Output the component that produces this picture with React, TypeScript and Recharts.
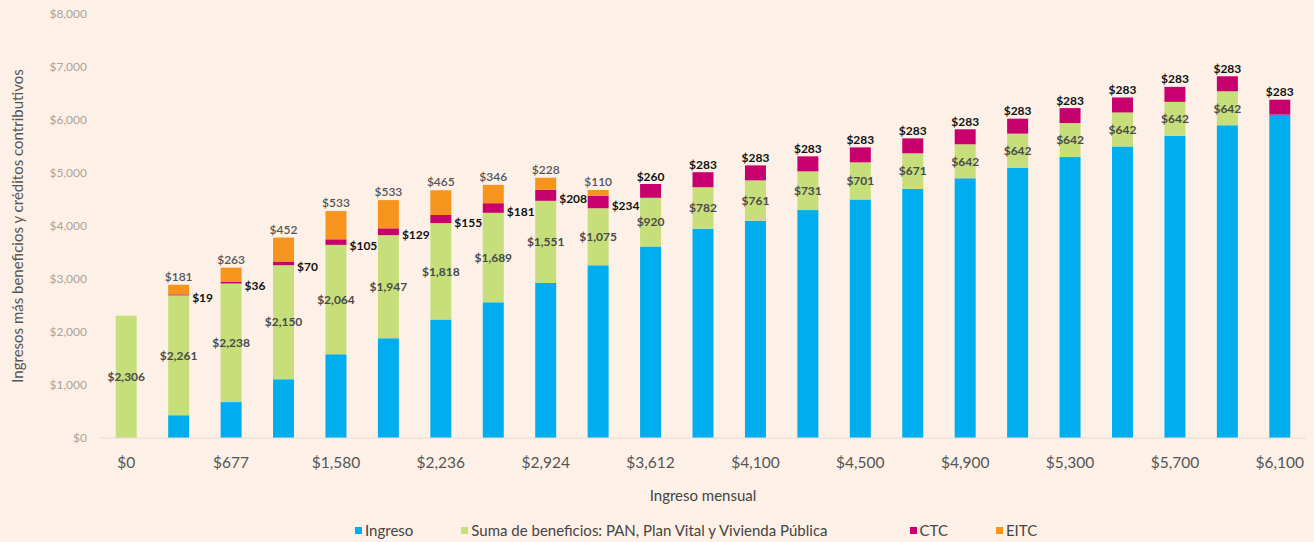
import { Bar, BarChart, LabelList, Legend, XAxis, YAxis } from "recharts";

// Ingreso mensual (categorías del eje X)
const categorias = [
  "$0", "$430", "$677", "$1,110", "$1,580", "$1,880", "$2,236", "$2,560",
  "$2,924", "$3,260", "$3,612", "$3,950", "$4,100", "$4,300", "$4,500",
  "$4,700", "$4,900", "$5,100", "$5,300", "$5,500", "$5,700", "$5,900", "$6,100",
];
const ingreso = [
  0, 430, 677, 1110, 1580, 1880, 2236, 2560, 2924, 3260, 3612, 3950, 4100,
  4300, 4500, 4700, 4900, 5100, 5300, 5500, 5700, 5900, 6100,
];
const beneficios = [
  2306, 2261, 2238, 2150, 2064, 1947, 1818, 1689, 1551, 1075, 920, 782, 761,
  731, 701, 671, 642, 642, 642, 642, 642, 642, 0,
];
const ctc = [
  0, 19, 36, 70, 105, 129, 155, 181, 208, 234, 260, 283, 283, 283, 283, 283,
  283, 283, 283, 283, 283, 283, 283,
];
const eitc = [
  0, 181, 263, 452, 533, 533, 465, 346, 228, 110, 0, 0, 0, 0, 0, 0, 0, 0, 0,
  0, 0, 0, 0,
];
const yTicks = [0, 1000, 2000, 3000, 4000, 5000, 6000, 7000, 8000];

const colors = {
  ingreso: "#00aeef",
  beneficios: "#c6df7a",
  ctc: "#c8006e",
  eitc: "#f7941d",
};

const FONT = "Lato, 'Open Sans', sans-serif";

const money = (v: number) => "$" + v.toLocaleString("en-US");

const data = categorias.map((c, i) => ({
  label: c,
  ingreso: ingreso[i],
  beneficios: beneficios[i],
  ctc: ctc[i],
  eitc: eitc[i],
}));

const legendItems = [
  { key: "ingreso", name: "Ingreso", gap: 355 },
  { key: "beneficios", name: "Suma de beneficios: PAN, Plan Vital y Vivienda Pública", gap: 48 },
  { key: "ctc", name: "CTC", gap: 82 },
  { key: "eitc", name: "EITC", gap: 48 },
];

function LegendContent() {
  return (
    <div
      style={{
        display: "flex",
        fontFamily: FONT,
        fontSize: 15,
        color: "#444",
        lineHeight: "24px",
      }}
    >
      {legendItems.map((it) => (
        <span
          key={it.key}
          style={{ display: "flex", alignItems: "center", marginLeft: it.gap }}
        >
          <span
            style={{
              width: 7,
              height: 7,
              background: colors[it.key as keyof typeof colors],
              marginRight: 3,
            }}
          />
          {it.name}
        </span>
      ))}
    </div>
  );
}

function CtcLabel(props: any) {
  const { x, y, width, height, value } = props;
  const i = categorias.indexOf(value);
  const v = ctc[i];
  if (!v) return null;
  const common = {
    fontFamily: FONT,
    fontSize: 12,
    fontWeight: 700,
    fill: "#111",
    dominantBaseline: "central" as const,
  };
  if (eitc[i] > 0) {
    return (
      <text x={x + width + 3} y={y + height / 2 + 3} textAnchor="start" {...common}>
        {money(v)}
      </text>
    );
  }
  return (
    <text x={x + width / 2} y={y - 8} textAnchor="middle" {...common}>
      {money(v)}
    </text>
  );
}

export default function App() {
  return (
    <div
      style={{
        position: "absolute",
        left: 0,
        top: 0,
        width: 1314,
        height: 542,
        background: "#fdf1e7",
      }}
    >
      <BarChart
        width={1314}
        height={542}
        data={data}
        margin={{ top: 14, right: 8, left: 0, bottom: 0 }}
        barCategoryGap="30%"
      >
        <XAxis
          dataKey="label"
          interval={1}
          tickLine={false}
          tickMargin={13}
          height={80}
          axisLine={{ stroke: "#e8ddd3" }}
          tick={{ fontSize: 15.5, fill: "#555", fontFamily: FONT }}
          label={{
            value: "Ingreso mensual",
            position: "insideBottom",
            offset: 17,
            fontSize: 15,
            fill: "#444",
            fontFamily: FONT,
          }}
        />
        <YAxis
          width={100}
          domain={[0, 8000]}
          ticks={yTicks}
          tickFormatter={money}
          axisLine={false}
          tickLine={false}
          tickMargin={7}
          tick={{ fontSize: 12, fill: "#aaa39c", fontFamily: FONT }}
          label={{
            value: "Ingresos más beneficios y créditos contributivos",
            angle: -90,
            position: "center",
            dx: -32,
            fontSize: 15,
            fill: "#555",
            fontFamily: FONT,
          }}
        />
        <Legend
          verticalAlign="bottom"
          content={<LegendContent />}
          wrapperStyle={{ left: 0, width: 1314, height: 24 }}
        />
        <Bar dataKey="ingreso" name="Ingreso" stackId="a" fill={colors.ingreso} isAnimationActive={false} />
        <Bar
          dataKey="beneficios"
          name="Suma de beneficios: PAN, Plan Vital y Vivienda Pública"
          stackId="a"
          fill={colors.beneficios}
          isAnimationActive={false}
        >
          <LabelList
            dataKey="beneficios"
            position="center"
            formatter={(v: any) => (v ? money(Number(v)) : "")}
            style={{ fontFamily: FONT, fontSize: 12, fontWeight: 700, fill: "#4a4a4a" }}
          />
        </Bar>
        <Bar dataKey="ctc" name="CTC" stackId="a" fill={colors.ctc} isAnimationActive={false}>
          <LabelList dataKey="label" content={<CtcLabel />} />
        </Bar>
        <Bar dataKey="eitc" name="EITC" stackId="a" fill={colors.eitc} isAnimationActive={false}>
          <LabelList
            dataKey="eitc"
            position="top"
            offset={4}
            formatter={(v: any) => (v ? money(Number(v)) : "")}
            style={{ fontFamily: FONT, fontSize: 12, fontWeight: 600, fill: "#555" }}
          />
        </Bar>
      </BarChart>
    </div>
  );
}
